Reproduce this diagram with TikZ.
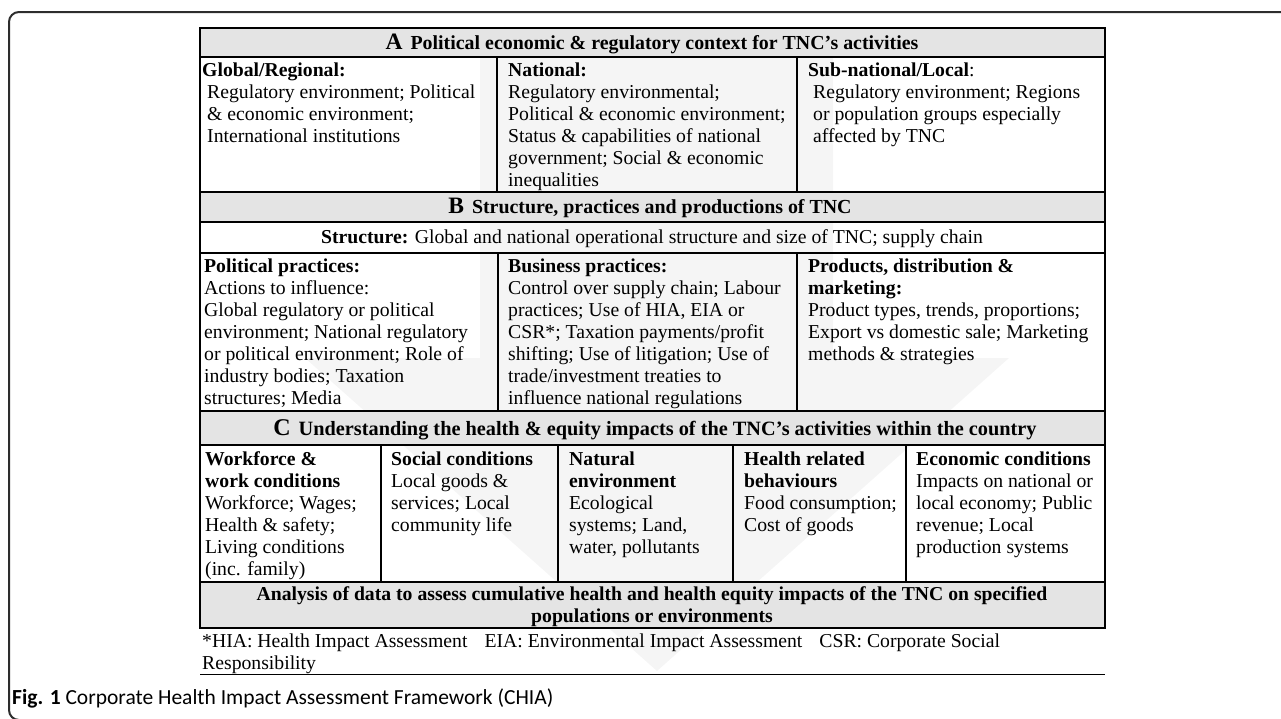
\documentclass[tikz,border=0pt]{standalone}
\usepackage{fontspec}
\setmainfont{Liberation Serif}
\newfontfamily\capfont{Carlito}
\definecolor{hdr}{RGB}{228,228,228}
\definecolor{arrowc}{RGB}{245,245,245}
\definecolor{framec}{RGB}{45,45,45}
\newcommand\tabfont{\fontsize{19.7}{22}\selectfont}
\newcommand\hdfont{\fontsize{19.9}{22}\selectfont}
\newcommand\bigfont{\fontsize{23.5}{23.5}\selectfont}
\newcommand\ind{\hspace*{5pt}}
\begin{document}
\begin{tikzpicture}[x=1pt,y=-1pt,
  tline/.style={line width=1.3pt,black},
  cell/.style={anchor=north west,inner sep=0pt,align=left,font=\tabfont},
  hdrtext/.style={anchor=base,inner sep=0pt,font=\hdfont\bfseries},
  frame/.style={line width=2pt,framec,rounded corners=10pt}]
\useasboundingbox (0,0) rectangle (1281,718);
% outer frame
\draw[frame] (1300,12) -- (9,12) -- (9,720) -- (60,720);
% faint background arrow
\fill[arrowc] (480,57) -- (833,57) -- (833,358) -- (1009,358) -- (657,671) -- (305,358) -- (480,358) -- cycle;
% header fills
\fill[hdr] (200,28) rectangle (1105,57);
\fill[hdr] (200,192) rectangle (1105,222);
\fill[hdr] (200,411) rectangle (1105,445);
\fill[hdr] (200,582) rectangle (1105,628);
% table lines
\draw[tline] (200,28) rectangle (1105,628);
\foreach \yy in {57,192,222,253,411,582} \draw[tline] (200,\yy) -- (1105,\yy);
\draw[line width=2.6pt] (200,445) -- (1105,445);
\draw[tline] (497,57) -- (497,192);
\draw[tline] (797,57) -- (797,192);
\draw[tline] (498,253) -- (498,411);
\draw[tline] (797,253) -- (797,411);
\foreach \xx in {381,558,733,906} \draw[tline] (\xx,445) -- (\xx,582);
\draw[line width=1pt] (200,674) -- (1105,674);
% A
\node[hdrtext] (hA) at (652,49) {{\bigfont A}\hspace{8pt}Political economic \& regulatory context for TNC’s activities};
\node[cell] (glob) at (202,60.6) {\strut\textbf{Global/Regional:}\\
\ind Regulatory environment; Political\\
\ind \& economic environment;\\
\ind International institutions};
\node[cell] (nat) at (508,60.6) {\strut\textbf{National:}\\
Regulatory environmental;\\
Political \& economic environment;\\
Status \& capabilities of national\\
government; Social \& economic\\
inequalities};
\node[cell] (sub) at (808,60.6) {\strut\textbf{Sub-national/Local}:\\
\ind Regulatory environment; Regions\\
\ind or population groups especially\\
\ind affected by TNC};
% B
\node[hdrtext] (hB) at (650,213.5) {{\bigfont B}\hspace{8pt}Structure, practices and productions of TNC};
\node[anchor=base,inner sep=0pt,font=\tabfont] (struct) at (652,243.5) {\textbf{Structure:} Global and national operational structure and size of TNC; supply chain};
\node[cell] (pol) at (204,256.6) {\strut\textbf{Political practices:}\\
Actions to influence:\\
Global regulatory or political\\
environment; National regulatory\\
or political environment; Role of\\
industry bodies; Taxation\\
structures; Media};
\node[cell] (bus) at (508,256.6) {\strut\textbf{Business practices:}\\
Control over supply chain; Labour\\
practices; Use of HIA, EIA or\\
CSR*; Taxation payments/profit\\
shifting; Use of litigation; Use of\\
trade/investment treaties to\\
influence national regulations};
\node[cell] (prod) at (808,256.6) {\strut\textbf{Products, distribution \&}\\
\textbf{marketing:}\\
Product types, trends, proportions;\\
Export vs domestic sale; Marketing\\
methods \& strategies};
% C
\node[hdrtext,font=\fontsize{20.3}{22}\selectfont\bfseries] (hC) at (655,435) {{\fontsize{24}{24}\selectfont C}\hspace{8pt}Understanding the health \& equity impacts of the TNC’s activities within the country};
\node[cell] (work) at (205,449.6) {\strut\textbf{Workforce \&}\\
\textbf{work conditions}\\
Workforce; Wages;\\
Health \& safety;\\
Living conditions\\
(inc. family)};
\node[cell] (soc) at (391,449.6) {\strut\textbf{Social conditions}\\
Local goods \&\\
services; Local\\
community life};
\node[cell] (natenv) at (569,449.6) {\strut\textbf{Natural}\\
\textbf{environment}\\
Ecological\\
systems; Land,\\
water, pollutants};
\node[cell] (hrb) at (744,449.6) {\strut\textbf{Health related}\\
\textbf{behaviours}\\
Food consumption;\\
Cost of goods};
\node[cell] (econ) at (916,449.6) {\strut\textbf{Economic conditions}\\
Impacts on national or\\
local economy; Public\\
revenue; Local\\
production systems};
\node[anchor=north,inner sep=0pt,align=center,font=\tabfont\bfseries] (anal) at (652,584.6) {\strut Analysis of data to assess cumulative health and health equity impacts of the TNC on specified\\
populations or environments};
% footnote
\node[cell] (foot) at (202,631.6) {\strut*HIA: Health Impact Assessment\hspace{17pt}EIA: Environmental Impact Assessment\hspace{17pt}CSR: Corporate Social\\
Responsibility};
% caption
\node[anchor=base west,inner sep=0pt,font=\capfont\fontsize{21.5}{24}\selectfont] (cap) at (12,704) {\textbf{Fig. 1} Corporate Health Impact Assessment Framework (CHIA)};
\end{tikzpicture}
\end{document}
